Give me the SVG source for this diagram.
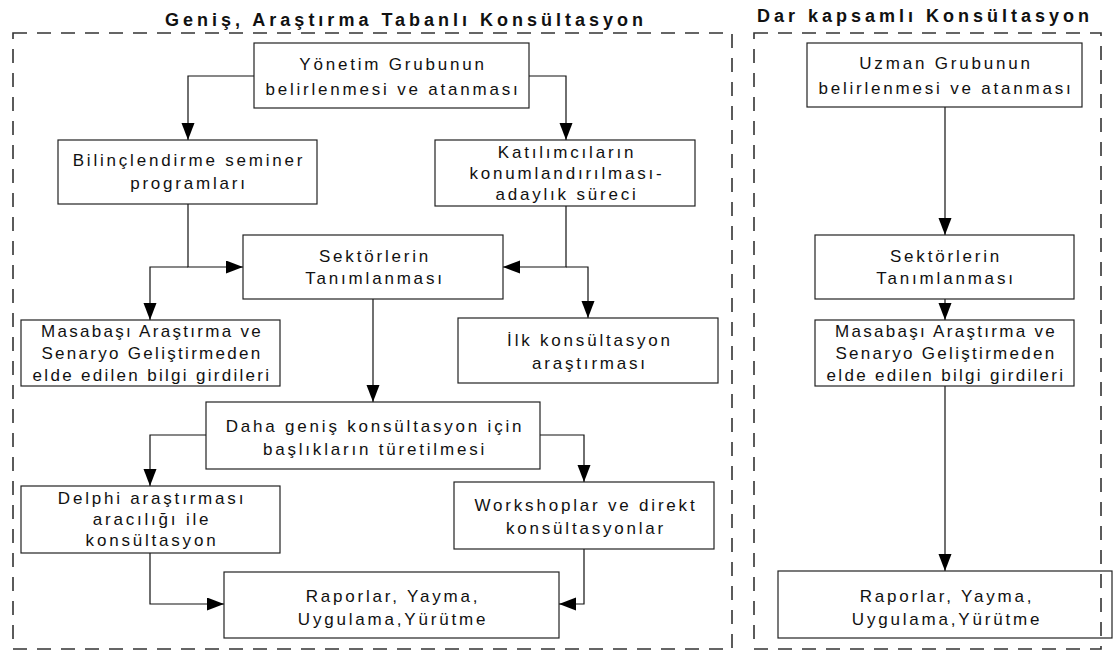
<svg xmlns="http://www.w3.org/2000/svg" width="1117" height="651" viewBox="0 0 1117 651">
  <style>
    .box { fill: #ffffff; stroke: #222222; stroke-width: 1.2; }
    .lbl { font-family: "Liberation Sans", Arial, sans-serif; font-size: 17px; letter-spacing: 2.8px; fill: #111111; text-anchor: middle; }
    .tight { letter-spacing: 2.3px; }
    .ttl { font-family: "Liberation Sans", Arial, sans-serif; font-size: 18px; font-weight: bold; letter-spacing: 4px; fill: #111111; }
    .panel { fill: none; stroke: #333333; stroke-width: 1.6; stroke-dasharray: 14 10; }
    .edge { fill: none; stroke: #111111; stroke-width: 1.2; marker-end: url(#arrow); }
  </style>
  <defs>
    <marker id="arrow" markerUnits="userSpaceOnUse" markerWidth="18" markerHeight="14" refX="17" refY="6.5" orient="auto">
      <path d="M0,0 L17,6.5 L0,13 z" fill="#000000"/>
    </marker>
  </defs>

  <rect width="1117" height="651" fill="#ffffff"/>

  <!-- panel titles -->
  <text class="ttl" x="165" y="26">Geniş, Araştırma Tabanlı Konsültasyon</text>
  <text class="ttl" x="757" y="22">Dar kapsamlı Konsültasyon</text>

  <!-- connectors -->
  <g id="connectors">
    <path class="edge" d="M254,76 H188 V140"/>
    <path class="edge" d="M529,76 H566 V140"/>
    <path class="edge" d="M188,204 V267 H243"/>
    <path class="edge" d="M188,267 H150 V320"/>
    <path class="edge" d="M566,206 V267 H503"/>
    <path class="edge" d="M566,267 H588 V318"/>
    <path class="edge" d="M373,299 V402"/>
    <path class="edge" d="M206,435 H150 V486"/>
    <path class="edge" d="M540,435 H584 V482"/>
    <path class="edge" d="M150,553 V604 H224"/>
    <path class="edge" d="M584,549 V604 H559"/>
    <path class="edge" d="M945,107 V235"/>
    <path class="edge" d="M945,299 V320"/>
    <path class="edge" d="M945,386 V571"/>
  </g>

  <!-- broad, research-based consultation -->
  <g id="n-yonetim">
    <rect class="box" x="254" y="43" width="275" height="65"/>
    <text class="lbl" x="393" y="70">Yönetim Grubunun</text>
    <text class="lbl" x="393" y="95">belirlenmesi ve atanması</text>
  </g>
  <g id="n-bilinc">
    <rect class="box" x="58" y="140" width="259" height="64"/>
    <text class="lbl" x="189" y="166">Bilinçlendirme seminer</text>
    <text class="lbl" x="189" y="189">programları</text>
  </g>
  <g id="n-katilim">
    <rect class="box" x="435" y="140" width="260" height="66"/>
    <text class="lbl" x="567" y="158">Katılımcıların</text>
    <text class="lbl" x="567" y="179">konumlandırılması-</text>
    <text class="lbl" x="567" y="200">adaylık süreci</text>
  </g>
  <g id="n-sektor-l">
    <rect class="box" x="243" y="235" width="260" height="64"/>
    <text class="lbl" x="375" y="262">Sektörlerin</text>
    <text class="lbl" x="375" y="284">Tanımlanması</text>
  </g>
  <g id="n-masa-l">
    <rect class="box" x="21" y="320" width="259" height="66"/>
    <text class="lbl tight" x="152" y="337">Masabaşı Araştırma ve</text>
    <text class="lbl tight" x="152" y="359">Senaryo Geliştirmeden</text>
    <text class="lbl tight" x="152" y="381">elde edilen bilgi girdileri</text>
  </g>
  <g id="n-ilk">
    <rect class="box" x="458" y="318" width="260" height="65"/>
    <text class="lbl" x="590" y="346">İlk konsültasyon</text>
    <text class="lbl" x="590" y="369">araştırması</text>
  </g>
  <g id="n-daha">
    <rect class="box" x="206" y="402" width="334" height="67"/>
    <text class="lbl" x="375" y="432">Daha geniş konsültasyon için</text>
    <text class="lbl" x="375" y="455">başlıkların türetilmesi</text>
  </g>
  <g id="n-delphi">
    <rect class="box" x="21" y="486" width="259" height="67"/>
    <text class="lbl" x="152" y="504">Delphi araştırması</text>
    <text class="lbl" x="152" y="525">aracılığı ile</text>
    <text class="lbl" x="152" y="546">konsültasyon</text>
  </g>
  <g id="n-workshop">
    <rect class="box" x="454" y="482" width="260" height="67"/>
    <text class="lbl" x="586" y="511">Workshoplar ve direkt</text>
    <text class="lbl" x="586" y="534">konsültasyonlar</text>
  </g>
  <g id="n-rapor-l">
    <rect class="box" x="224" y="572" width="335" height="66"/>
    <text class="lbl" x="393" y="602">Raporlar, Yayma,</text>
    <text class="lbl" x="393" y="625">Uygulama,Yürütme</text>
  </g>

  <!-- narrow-scope consultation -->
  <g id="n-uzman">
    <rect class="box" x="807" y="43" width="275" height="64"/>
    <text class="lbl" x="946" y="69">Uzman Grubunun</text>
    <text class="lbl" x="946" y="94">belirlenmesi ve atanması</text>
  </g>
  <g id="n-sektor-r">
    <rect class="box" x="815" y="235" width="259" height="64"/>
    <text class="lbl" x="946" y="262">Sektörlerin</text>
    <text class="lbl" x="946" y="284">Tanımlanması</text>
  </g>
  <g id="n-masa-r">
    <rect class="box" x="815" y="320" width="259" height="66"/>
    <text class="lbl tight" x="946" y="337">Masabaşı Araştırma ve</text>
    <text class="lbl tight" x="946" y="359">Senaryo Geliştirmeden</text>
    <text class="lbl tight" x="946" y="381">elde edilen bilgi girdileri</text>
  </g>
  <g id="n-rapor-r">
    <rect class="box" x="778" y="571" width="334" height="67"/>
    <text class="lbl" x="947" y="602">Raporlar, Yayma,</text>
    <text class="lbl" x="947" y="625">Uygulama,Yürütme</text>
  </g>

  <!-- dashed panel frames -->
  <rect class="panel" x="13" y="33" width="719" height="616"/>
  <rect class="panel" x="754" y="33" width="347" height="616"/>
</svg>
